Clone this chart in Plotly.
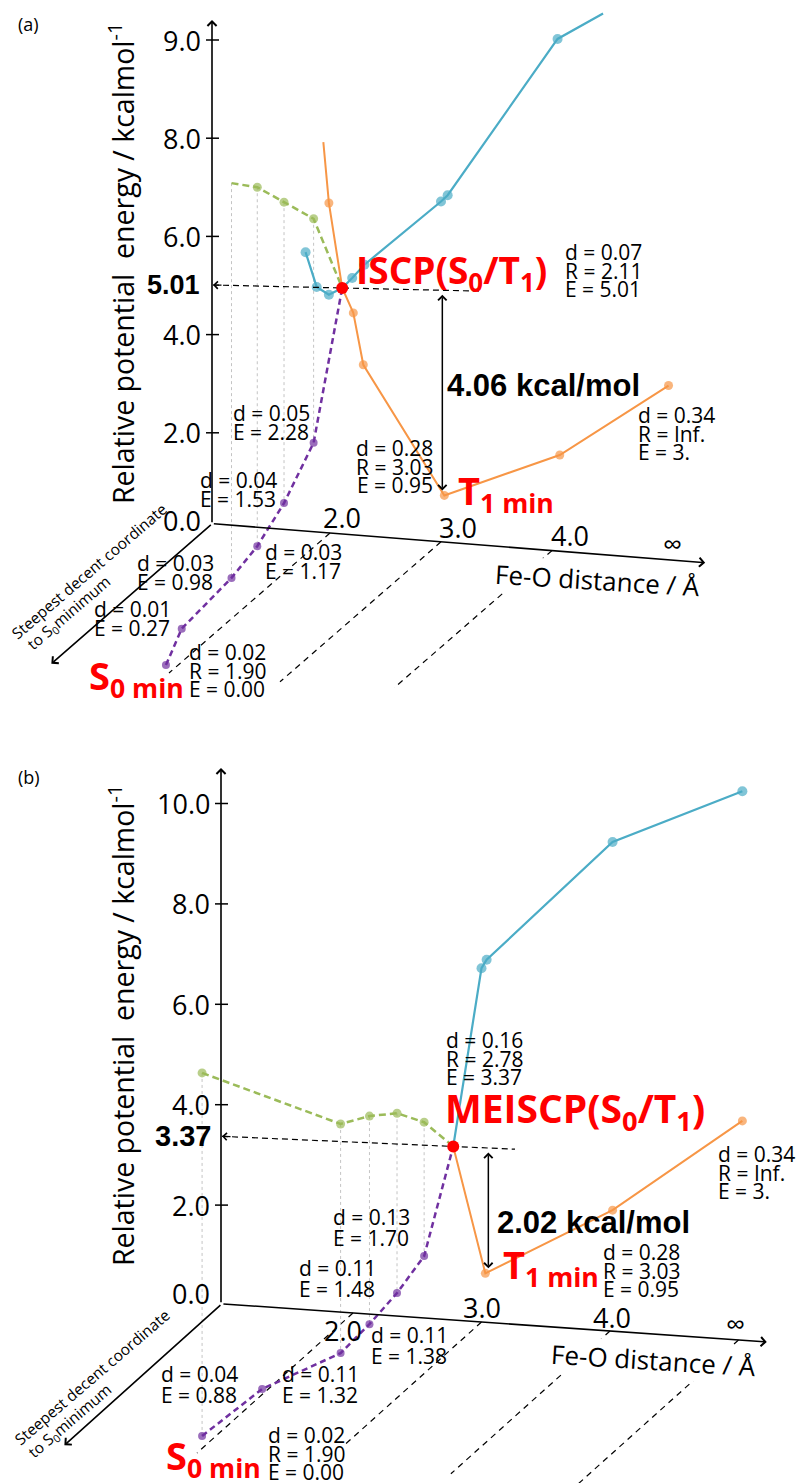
import plotly.graph_objects as go

W, H = 800, 1483
FONT = "Open Sans"
BFONT = "Liberation Sans"
BLUE, ORANGE, PURPLE, GREEN, RED = "#4bacc6", "#f79646", "#7030a0", "#9bbb59", "#ff0000"
GRAY = "#c4c4c4"

# ================= DATA =================
# R = Fe-O distance (axis position, Inf drawn at ~5), s = steepest-descent coordinate (arb.), E = kcal/mol
# ---- panel (a): ISCP(S0/T1)
a_s0_R = [1.78, 1.88, 1.99, 2.11, 2.20, 2.31, 3.00, 3.06, 4.05, 4.46]
a_s0_E = [5.68, 4.99, 4.85, 5.01, 5.23, 5.52, 6.93, 7.07, 10.43, 11.02]
a_s0_mk = [1, 1, 1, 1, 1, 1, 1, 1, 1, 0]
a_t1_R = [1.94, 1.99, 2.11, 2.21, 2.30, 3.03, 4.07, 5.05]
a_t1_E = [7.95, 6.72, 5.01, 4.52, 3.48, 0.95, 1.96, 3.55]
a_t1_mk = [0, 1, 1, 1, 1, 1, 1, 1]
a_path_R = [1.90, 1.81, 2.07, 2.07, 2.05, 2.07, 2.11]
a_path_s = [0.95, 0.79, 0.66, 0.50, 0.32, 0.15, 0.00]
a_path_E = [0.00, 0.27, 0.98, 1.17, 1.53, 2.28, 5.01]
a_path_d = [0.02, 0.01, 0.03, 0.03, 0.04, 0.05, 0.07]
a_path_T1 = [None, None, 9.02, 8.48, 7.66, 6.84, 5.01]
a_path_T1mk = [0, 0, 0, 1, 1, 1, 0]
a_cross = (2.11, 5.01, 0.07)
a_t1min = (3.03, 0.95, 0.28)
a_inf = ("Inf.", "3.", 0.34)
a_gap = "4.06"
a_yticks = [2, 4, 6, 8, 10]
a_yticklabels = ["2.0", "4.0", "6.0", "8.0", "9.0"]

# ---- panel (b): MEISCP(S0/T1)
b_s0_R = [2.78, 3.00, 3.04, 4.02, 5.03]
b_s0_E = [3.37, 6.87, 7.04, 9.50, 10.66]
b_s0_mk = [1, 1, 1, 1, 1]
b_t1_R = [2.78, 3.03, 4.02, 5.03]
b_t1_E = [3.37, 0.95, 2.35, 4.26]
b_t1_mk = [1, 1, 1, 1]
b_path_R = [1.90, 2.32, 2.78, 2.78, 2.77, 2.76, 2.78]
b_path_s = [0.885, 0.846, 0.722, 0.537, 0.352, 0.170, 0.0]
b_path_E = [0.00, 0.88, 1.32, 1.38, 1.48, 1.70, 3.37]
b_path_d = [0.02, 0.04, 0.11, 0.11, 0.11, 0.13, 0.16]
b_path_T1 = [7.05, None, 5.77, 5.42, 4.97, 4.30, 3.37]
b_path_T1mk = [1, 0, 1, 1, 1, 1, 0]
b_cross = (2.78, 3.37, 0.16)
b_t1min = (3.03, 0.95, 0.28)
b_inf = ("Inf.", "3.", 0.34)
b_gap = "2.02"
b_yticks = [2, 4, 6, 8, 10]
b_yticklabels = ["2.0", "4.0", "6.0", "8.0", "10.0"]

feo_ticklabels = ["2.0", "3.0", "4.0", "\u221e"]

# ================= PROJECTION / LAYOUT PARAMETERS =================
PA = dict(P2=(330, 533), aR=(111, 8.8), bS=(-161, 140), kE=49.1,
          ax_x=212, ax_zero=531, ax_k=49.1, ax_top=20, R0=0.94, Rend=5.38, s_end=1.0,
          grid_R=[2, 3, 4], grid_s=[1.0, 1.0, 0.98], ext_x=482)
PB = dict(P2=(353, 1313), aR=(128.5, 9.0), bS=(-156, 140), kE=51.5,
          ax_x=221, ax_zero=1305.5, ax_k=50.2, ax_top=768, R0=0.98, Rend=5.22, s_end=1.01,
          grid_R=[2, 3, 4, 5], grid_s=[1.0, 0.88, 1.02, 1.03], ext_x=515)

SMALL = 21

fig = go.Figure()


def P(p, R, s, E):
    x = p['P2'][0] + (R - 2) * p['aR'][0] + s * p['bS'][0]
    y = p['P2'][1] + (R - 2) * p['aR'][1] + s * p['bS'][1] - p['kE'] * E
    return x, y


def trace(xs, ys, color, width, dash=None, sizes=None, mode='lines'):
    kw = dict(x=xs, y=ys, mode=mode, line=dict(color=color, width=width, dash=dash),
              hoverinfo='skip', showlegend=False)
    if sizes is not None:
        kw['mode'] = 'lines+markers'
        kw['marker'] = dict(size=sizes, color=color, line=dict(width=0))
    fig.add_trace(go.Scatter(**kw))


def txt(x, y, s, size=SMALL, color='black', family=FONT, xanchor='left', yanchor='middle',
        angle=0, bg=None):
    fig.add_annotation(x=x, y=y, xref='x', yref='y', text=s, showarrow=False,
                       font=dict(family=family, size=size, color=color),
                       xanchor=xanchor, yanchor=yanchor, textangle=angle,
                       bgcolor=bg, borderpad=0)


def arrow(x0, y0, x1, y1, head=4, size=1.1, width=1.5, both=False):
    fig.add_annotation(x=x1, y=y1, ax=x0, ay=y0, xref='x', yref='y', axref='x', ayref='y',
                       text='', showarrow=True, arrowhead=head, arrowsize=size,
                       arrowwidth=width, arrowcolor='black',
                       arrowside='end+start' if both else 'end',
                       startarrowhead=head, startarrowsize=size)


def lines_label(x, y0, lines, dy=18.5, size=SMALL, xanchor='left'):
    for i, t in enumerate(lines):
        txt(x, y0 + i * dy, t, size=size, xanchor=xanchor)


def panel(p, s0R, s0E, s0mk, t1R, t1E, t1mk, pR, ps, pE, pT1, pT1mk, cross):
    # floor grid (dashed, parallel to descent axis)
    for R, se in zip(p['grid_R'], p['grid_s']):
        x0, y0 = P(p, R, 0, 0)
        x1, y1 = P(p, R, se, 0)
        trace([x0, x1], [y0, y1], 'black', 1.2, dash='6px,5px')
    # thin verticals from T1 path energies to S0 path points
    for R, s, e0, e1 in zip(pR[:-1], ps[:-1], pE[:-1], pT1[:-1]):
        if e1 is None:
            continue
        xa, ya = P(p, R, s, e1)
        xb, yb = P(p, R, s, e0)
        trace([xa, xb], [ya, yb], GRAY, 1, dash='dot')
    # T1 energy along S0 steepest descent path (green)
    g = [(R, s, e, m) for R, s, e, m in zip(pR, ps, pT1, pT1mk) if e is not None]
    gx, gy = zip(*[P(p, R, s, e) for R, s, e, m in g])
    trace(list(gx), list(gy), GREEN, 2.5, dash='7px,4px', sizes=[9 * m for *_, m in g])
    # S0 steepest descent path (purple)
    px_, py_ = zip(*[P(p, R, s, e) for R, s, e in zip(pR, ps, pE)])
    trace(list(px_), list(py_), PURPLE, 2.5, dash='6px,4px', sizes=[8] * (len(pR) - 1) + [0])
    # S0 scan (blue) and T1 scan (orange) on back plane
    bx, by = zip(*[P(p, R, 0, e) for R, e in zip(s0R, s0E)])
    trace(list(bx), list(by), BLUE, 2.2, sizes=[10 * m for m in s0mk])
    ox, oy = zip(*[P(p, R, 0, e) for R, e in zip(t1R, t1E)])
    trace(list(ox), list(oy), ORANGE, 2, sizes=[9 * m for m in t1mk])
    # crossing point
    cx, cy = P(p, cross[0], 0, cross[1])
    # energy projection dashed line to the vertical axis
    ya = p['ax_zero'] - p['ax_k'] * cross[1]
    xa = p['ax_x'] + 1
    slope = (cy - ya) / (cx - xa)
    ye = cy + slope * (p['ext_x'] - cx)
    trace([xa, p['ext_x']], [ya, ye], 'black', 1.2, dash='6px,4px')
    fig.add_trace(go.Scatter(x=[cx], y=[cy], mode='markers', marker=dict(size=12, color=RED),
                             hoverinfo='skip', showlegend=False))
    arrow(xa + 10, ya + slope * 10, xa, ya, head=4, size=1.1, width=1.3)
    # axes
    ox0, oy0 = P(p, p['R0'], 0, 0)
    arrow(p['ax_x'], oy0, p['ax_x'], p['ax_top'], head=4, size=1.1, width=1.6)
    xe, ye2 = P(p, p['Rend'], 0, 0)
    arrow(ox0, oy0, xe, ye2, head=4, size=1.1, width=1.6)
    xd, yd = P(p, p['R0'], p['s_end'], 0)
    arrow(ox0, oy0, xd, yd, head=4, size=1.1, width=1.6)
    return (cx, cy), slope


def vticks(p, ticks, labels, zero_y):
    for t, lab in zip(ticks, labels):
        y = p['ax_zero'] - p['ax_k'] * t
        trace([p['ax_x'] - 6, p['ax_x'] + 7], [y, y], 'black', 1.5)
        txt(p['ax_x'] - 10, y, lab, size=27, xanchor='right')
    txt(p['ax_x'] - 10, zero_y, "0.0", size=27, xanchor='right')


# ================= PANEL (a) =================
(acx, acy), aslope = panel(PA, a_s0_R, a_s0_E, a_s0_mk, a_t1_R, a_t1_E, a_t1_mk,
                           a_path_R, a_path_s, a_path_E, a_path_T1, a_path_T1mk, a_cross)
vticks(PA, a_yticks, a_yticklabels, 520)
ya_a = PA['ax_zero'] - PA['ax_k'] * a_cross[1]
txt(PA['ax_x'] - 11, ya_a, "<b>%.2f</b>" % a_cross[1], size=27, family=BFONT, xanchor='right')
txt(17, 24, "(a)", size=18)
txt(121, 264, "Relative potential\u00a0 energy / kcalmol<sup>-1</sup>", size=28.5,
    xanchor='center', angle=-90)
txt(597, 580, "Fe-O distance / \u00c5", size=26, xanchor='center', angle=3.5, bg='white')
txt(89, 571, "Steepest decent coordinate", size=15.5, xanchor='center', angle=-40.6)
txt(68, 613, "to S<sub>0</sub>minimum", size=15.5, xanchor='center', angle=-40.6)
for (x, y), lab in zip([(342, 517), (458, 527), (570, 535), (672, 543)], feo_ticklabels):
    txt(x, y, lab, size=27, xanchor='center')
# double arrow for the gap
tx, ty = P(PA, a_t1min[0], 0, a_t1min[1])
xg = tx - 2
arrow(xg, acy + aslope * (xg - acx) + 3, xg, ty - 5, head=4, size=1.1, width=1.5, both=True)
txt(446, 385, "<b>%s kcal/mol</b>" % a_gap, size=31, family=BFONT)
txt(355, 272, "<b>ISCP(S<sub>0</sub>/T<sub>1</sub>)</b>", size=37, color=RED)
txt(457, 492, "<b>T<sub>1 min</sub></b>", size=38, color=RED)
txt(88, 677, "<b>S<sub>0 min</sub></b>", size=38, color=RED)
lines_label(564, 252, ["d = %.2f" % a_cross[2], "R = %.2f" % a_cross[0], "E = %.2f" % a_cross[1]])
lines_label(434, 448, ["d = %.2f" % a_t1min[2], "R = %.2f" % a_t1min[0], "E = %.2f" % a_t1min[1]],
            xanchor='right')
lines_label(637, 415, ["d = %.2f" % a_inf[2], "R = %s" % a_inf[0], "E = %s" % a_inf[1]])
lines_label(188, 652, ["d = %.2f" % a_path_d[0], "R = %.2f" % a_path_R[0], "E = %.2f" % a_path_E[0]])
for i, (x, y) in zip([1, 2, 3, 4, 5], [(93, 609), (136, 563), (264, 552), (199, 480), (232, 413)]):
    lines_label(x, y, ["d = %.2f" % a_path_d[i], "E = %.2f" % a_path_E[i]])

# ================= PANEL (b) =================
(bcx, bcy), bslope = panel(PB, b_s0_R, b_s0_E, b_s0_mk, b_t1_R, b_t1_E, b_t1_mk,
                           b_path_R, b_path_s, b_path_E, b_path_T1, b_path_T1mk, b_cross)
vticks(PB, b_yticks, b_yticklabels, 1293)
ya_b = PB['ax_zero'] - PB['ax_k'] * b_cross[1]
txt(PB['ax_x'] - 9, ya_b, "<b>%.2f</b>" % b_cross[1], size=29, family=BFONT, xanchor='right')
txt(17, 777, "(b)", size=18)
txt(121, 1026, "Relative potential\u00a0 energy / kcalmol<sup>-1</sup>", size=28.5,
    xanchor='center', angle=-90)
txt(653, 1360, "Fe-O distance / \u00c5", size=26, xanchor='center', angle=3.5, bg='white')
txt(92, 1377, "Steepest decent coordinate", size=15.5, xanchor='center', angle=-40.6)
txt(69, 1421, "to S<sub>0</sub>minimum", size=15.5, xanchor='center', angle=-40.6)
for (x, y), lab in zip([(343, 1330), (482, 1307), (612, 1317), (735, 1323)], feo_ticklabels):
    txt(x, y, lab, size=27, xanchor='center')
tx, ty = P(PB, b_t1min[0], 0, b_t1min[1])
xg = tx + 3
arrow(xg, bcy + bslope * (xg - bcx) + 3, xg, ty - 5, head=4, size=1.1, width=1.5, both=True)
txt(496, 1222, "<b>%s kcal/mol</b>" % b_gap, size=31, family=BFONT)
txt(444, 1110, "<b>MEISCP(S<sub>0</sub>/T<sub>1</sub>)</b>", size=39, color=RED)
txt(502, 1266, "<b>T<sub>1 min</sub></b>", size=38, color=RED)
txt(165, 1457, "<b>S<sub>0 min</sub></b>", size=38, color=RED)
lines_label(445, 1040, ["d = %.2f" % b_cross[2], "R = %.2f" % b_cross[0], "E = %.2f" % b_cross[1]])
lines_label(602, 1252, ["d = %.2f" % b_t1min[2], "R = %.2f" % b_t1min[0], "E = %.2f" % b_t1min[1]])
lines_label(717, 1154, ["d = %.2f" % b_inf[2], "R = %s" % b_inf[0], "E = %s" % b_inf[1]])
lines_label(267, 1435, ["d = %.2f" % b_path_d[0], "R = %.2f" % b_path_R[0], "E = %.2f" % b_path_E[0]])
for i, (x, y) in zip([1, 2, 3, 4, 5], [(160, 1374), (281, 1374), (370, 1335), (298, 1268), (332, 1217)]):
    lines_label(x, y, ["d = %.2f" % b_path_d[i], "E = %.2f" % b_path_E[i]], dy=21)

fig.update_layout(
    width=W, height=H, autosize=False,
    margin=dict(l=0, r=0, t=0, b=0),
    paper_bgcolor='white', plot_bgcolor='white',
    xaxis=dict(range=[0, W], visible=False, fixedrange=True),
    yaxis=dict(range=[H, 0], visible=False, fixedrange=True),
    showlegend=False,
)
fig.write_html("out.html", config={"displayModeBar": False},
               post_script="document.body.style.margin='0';document.body.style.overflow='hidden';")
